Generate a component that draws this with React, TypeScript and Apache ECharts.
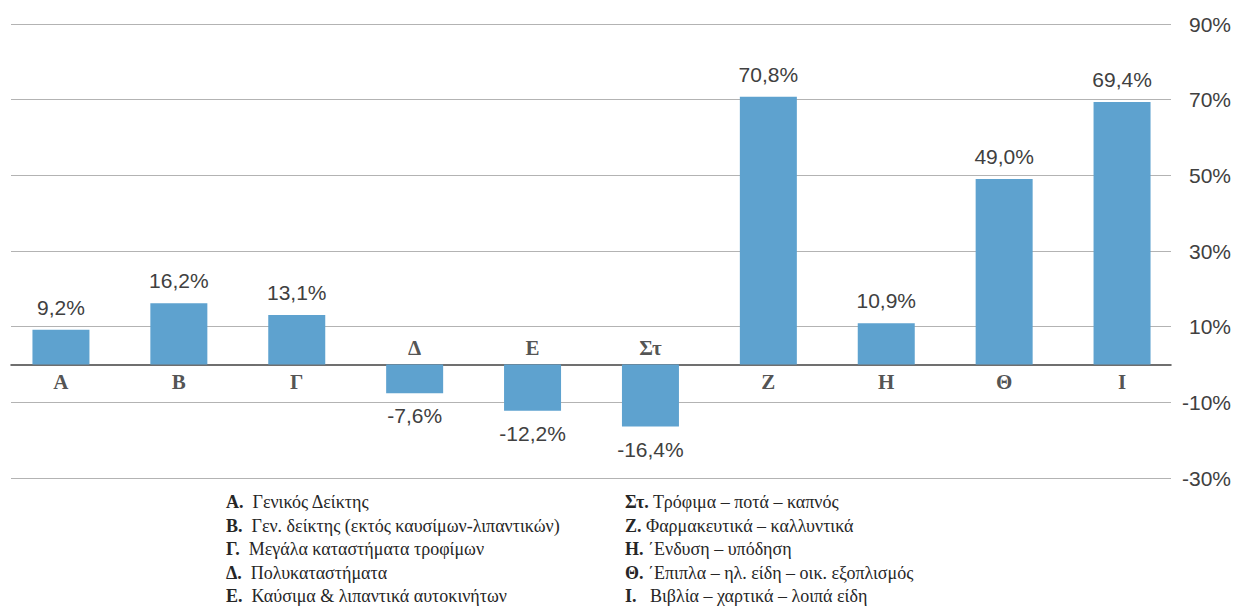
import React, { useEffect, useRef } from "react";
import * as echarts from "echarts";

const categories = ["Α", "Β", "Γ", "Δ", "Ε", "Στ", "Ζ", "Η", "Θ", "Ι"];
const values = [9.2, 16.2, 13.1, -7.6, -12.2, -16.4, 70.8, 10.9, 49.0, 69.4];
const legendLeftPrefix = ["Α.", "Β.", "Γ.", "Δ.", "Ε."];
const legendLeftText = [
  "Γενικός Δείκτης",
  "Γεν. δείκτης (εκτός καυσίμων-λιπαντικών)",
  "Μεγάλα καταστήματα τροφίμων",
  "Πολυκαταστήματα",
  "Καύσιμα & λιπαντικά αυτοκινήτων",
];
const legendRightPrefix = ["Στ.", "Ζ.", "Η.", "Θ.", "Ι."];
const legendRightText = [
  "Τρόφιμα – ποτά – καπνός",
  "Φαρμακευτικά – καλλυντικά",
  "΄Ενδυση – υπόδηση",
  "΄Επιπλα – ηλ. είδη – οικ. εξοπλισμός",
  "  Βιβλία – χαρτικά – λοιπά είδη",
];
const yMin = -30;
const yMax = 90;

const GRID = "#b3b3b3";
const SERIF = "'Liberation Serif', 'Times New Roman', serif";
const SANS = "'Liberation Sans', Arial, sans-serif";

export default function App() {
  const ref = useRef<HTMLDivElement>(null);
  useEffect(() => {
    if (!ref.current) return;
    const chart = echarts.init(ref.current, undefined, { renderer: "svg" });

    const splitColors: string[] = [];
    for (let v = yMin; v <= yMax; v += 10) {
      splitColors.push(Math.abs(v) % 20 === 10 ? GRID : "rgba(0,0,0,0)");
    }

    const legendTexts: any[] = [];
    const rich = {
      b: { fontFamily: SERIF, fontWeight: "bold", fontSize: 18, fill: "#262626" },
      t: { fontFamily: SERIF, fontSize: 18, fill: "#262626" },
    };
    legendLeftPrefix.forEach((p, i) => {
      legendTexts.push({
        type: "text",
        left: 226,
        top: 493 + i * 23.5,
        style: { text: `{b|${p}}{t|  ${legendLeftText[i]}}`, rich },
      });
    });
    legendRightPrefix.forEach((p, i) => {
      legendTexts.push({
        type: "text",
        left: 625,
        top: 493 + i * 23.5,
        style: { text: `{b|${p}}{t| ${legendRightText[i]}}`, rich },
      });
    });

    chart.setOption({
      animation: false,
      backgroundColor: "#ffffff",
      grid: [
        { left: 11, right: 62, top: 24, bottom: 129 },
        { left: 2, right: 53, top: 24, bottom: 129 },
      ],
      xAxis: [
        {
          type: "value",
          gridIndex: 0,
          min: 0,
          max: 1,
          axisLine: { show: true, onZero: true, lineStyle: { color: "#404040", width: 1.5 } },
          axisTick: { show: false },
          axisLabel: { show: false },
          splitLine: { show: false },
        },
        {
          type: "category",
          gridIndex: 1,
          data: categories,
          show: false,
        },
      ],
      yAxis: [
        {
          type: "value",
          gridIndex: 0,
          position: "right",
          min: yMin,
          max: yMax,
          interval: 10,
          axisLine: { show: false },
          axisTick: { show: false },
          axisLabel: {
            align: "right",
            margin: 60,
            fontFamily: SANS,
            fontSize: 21,
            color: "#404040",
            formatter: (v: number) => (Math.abs(v) % 20 === 10 ? `${v}%` : ""),
          },
          splitLine: { show: true, lineStyle: { color: splitColors, width: 1 } },
        },
        {
          type: "value",
          gridIndex: 1,
          min: yMin,
          max: yMax,
          show: false,
          splitLine: { show: false },
        },
      ],
      series: [
        {
          type: "bar",
          xAxisIndex: 1,
          yAxisIndex: 1,
          barWidth: 57,
          itemStyle: { color: "#5ea2cf" },
          data: values.map((v) => ({
            value: v,
            label: {
              show: true,
              position: v >= 0 ? "top" : "bottom",
              distance: 12,
              fontFamily: SANS,
              fontSize: 21,
              color: "#404040",
              formatter: () => `${v.toFixed(1).replace(".", ",")}%`,
            },
          })),
        },
        {
          type: "scatter",
          xAxisIndex: 1,
          yAxisIndex: 1,
          symbolSize: 1,
          itemStyle: { color: "rgba(0,0,0,0)" },
          silent: true,
          data: categories.map((c, i) => ({
            value: 0,
            label: {
              show: true,
              position: values[i] >= 0 ? "bottom" : "top",
              distance: 6,
              fontFamily: SERIF,
              fontWeight: "bold",
              fontSize: 21,
              color: "#262626",
              formatter: () => c,
            },
          })),
        },
      ],
      graphic: legendTexts,
    });
    return () => chart.dispose();
  }, []);
  return (
    <div
      ref={ref}
      style={{ position: "absolute", left: 0, top: 0, width: 1234, height: 607 }}
    />
  );
}
